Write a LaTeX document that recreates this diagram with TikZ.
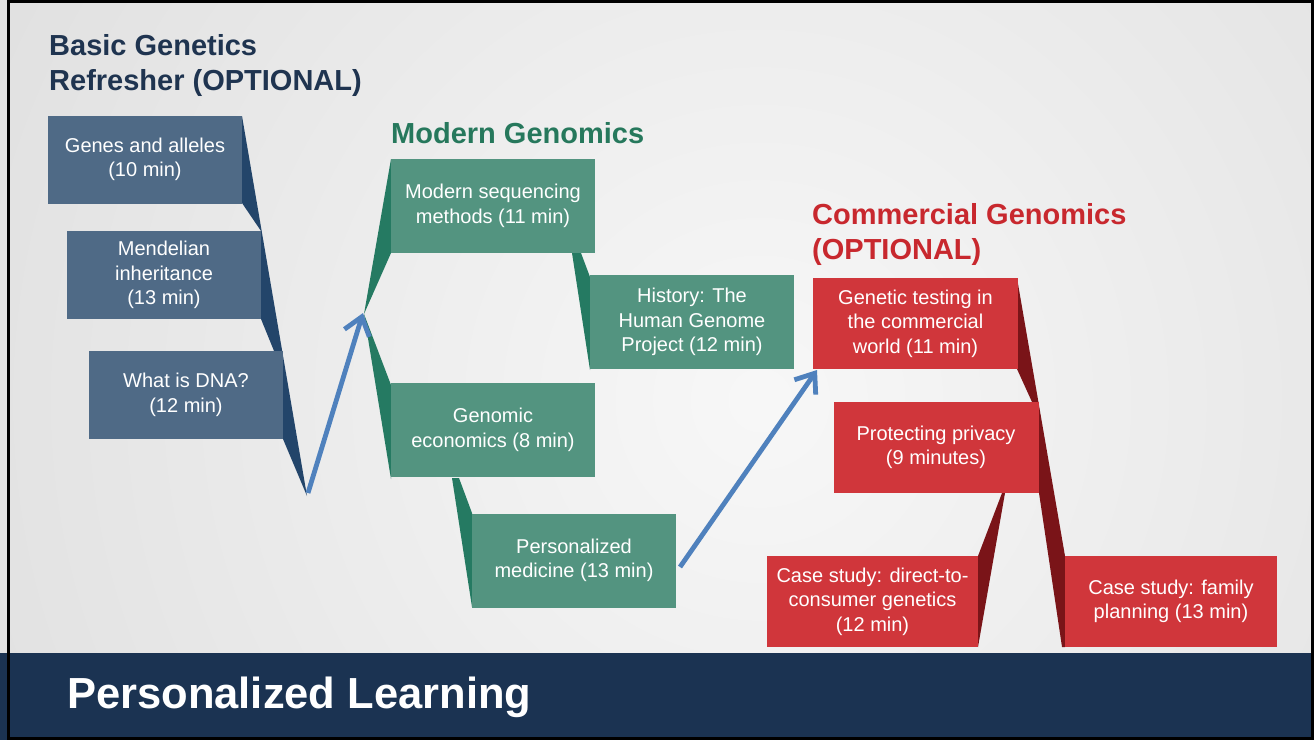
\documentclass[tikz,border=0pt]{standalone}
\usepackage{fontspec}
\setmainfont{Liberation Sans}
\usetikzlibrary{arrows.meta}
\definecolor{boxblue}{HTML}{4F6A86}
\definecolor{tailblue}{HTML}{23456A}
\definecolor{boxgreen}{HTML}{539480}
\definecolor{tailgreen}{HTML}{257A62}
\definecolor{boxred}{HTML}{D0363B}
\definecolor{tailred}{HTML}{7A1418}
\definecolor{headnavy}{HTML}{1F3450}
\definecolor{headgreen}{HTML}{26785C}
\definecolor{headred}{HTML}{C8282E}
\definecolor{bandcol}{HTML}{1B3352}
\definecolor{arrowblue}{HTML}{4F81BD}
\begin{document}
\begin{tikzpicture}[x=1pt,y=-1pt,
  card/.style={rectangle, inner sep=0pt, text=white, align=center,
    font=\fontsize{20}{24.5}\selectfont},
  cardb/.style={card, fill=boxblue, minimum width=194pt, minimum height=88pt},
  cardg/.style={card, fill=boxgreen, minimum width=204pt, minimum height=94pt},
  cardr/.style={card, fill=boxred, minimum width=205pt, minimum height=91pt},
  heading/.style={anchor=base west, inner sep=0pt,
    font=\fontsize{29}{35}\selectfont\bfseries},
  flow/.style={draw=arrowblue, line width=4.8pt,
    -{Straight Barb[length=17pt,width=26pt]}}
]
\useasboundingbox (0,0) rectangle (1314,740);
% background
\begin{scope}
  \clip (0,0) rectangle (1314,653);
  \shade[inner color=black!3, outer color=gray!31] (760,400) circle (1200);
\end{scope}
\fill[bandcol] (0,653) rectangle (1314,740);
\draw[black, line width=3pt] (8,1.5) -- (1312.5,1.5) -- (1312.5,738.5) -- (8,738.5) -- cycle;

% tails
\fill[tailblue] (242,116) -- (307,496) -- (283,439) -- (283,373) -- (261,319)
  -- (261,231) -- (242,203) -- cycle;
\fill[tailgreen] (391,159) -- (364,314) -- (391,253) -- cycle;
\fill[tailgreen] (364,314) -- (391,385) -- (391,479) -- cycle;
\fill[tailgreen] (572,253) -- (581,253) -- (590,277) -- (590,370) -- cycle;
\fill[tailgreen] (452,478) -- (459,478) -- (472,513) -- (472,607) -- cycle;
\fill[tailred] (1017,278) -- (1065,556) -- (1065,647) -- (1062,647) -- (1039,493)
  -- (1032,402) -- (1017,369) -- cycle;
\fill[tailred] (1002,493) -- (1005,493) -- (978,647) -- (978,556) -- cycle;

% headings
\node[heading, text=headnavy] (h1a) at (49,55) {Basic Genetics};
\node[heading, text=headnavy] (h1b) at (49,90) {Refresher (OPTIONAL)};
\node[heading, text=headgreen] (h2) at (391,143) {Modern Genomics};
\node[heading, text=headred] (h3a) at (812,224) {Commercial Genomics};
\node[heading, text=headred] (h3b) at (812,259) {(OPTIONAL)};

% blue cards
\node[cardb] (b1) at (145,159.5) {Genes and alleles\\(10 min)};
\node[cardb] (b2) at (164,275) {Mendelian\\inheritance\\(13 min)};
\node[cardb] (b3) at (186,395) {What is DNA?\\(12 min)};
% green cards
\node[cardg] (g1) at (493,206) {Modern sequencing\\methods (11 min)};
\node[cardg] (g2) at (692,322) {History: The\\Human Genome\\Project (12 min)};
\node[cardg] (g3) at (493,430) {Genomic\\economics (8 min)};
\node[cardg] (g4) at (574,560.5) {Personalized\\medicine (13 min)};
% red cards
\node[cardr] (r1) at (915.5,323.5) {Genetic testing in\\the commercial\\world (11 min)};
\node[cardr] (r2) at (936,447.5) {Protecting privacy\\(9 minutes)};
\node[cardr, minimum width=211pt] (r3) at (872.5,601.5) {Case study: direct-to-\\consumer genetics\\(12 min)};
\node[cardr, minimum width=212pt] (r4) at (1171,601.5) {Case study: family\\planning (13 min)};

% flow arrows
\coordinate (bapex) at (308,493);
\coordinate (gapex) at (363,313);
\coordinate (gout) at (680,567);
\coordinate (rin) at (817,370);
\draw[flow] (bapex) -- (gapex);
\draw[flow] (gout) -- (rin);

% title
\node[anchor=base west, inner sep=0pt, text=white,
  font=\fontsize{43.5}{52}\selectfont\bfseries] (title) at (67,708) {Personalized Learning};
\end{tikzpicture}
\end{document}
